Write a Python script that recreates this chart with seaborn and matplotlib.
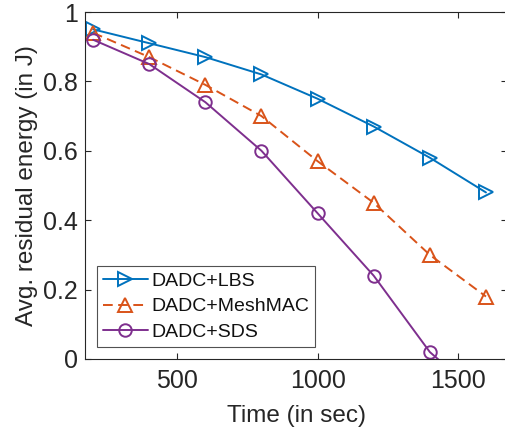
import matplotlib
matplotlib.use("Agg")
import matplotlib.pyplot as plt
import seaborn as sns
import pandas as pd

time_sec = [200, 400, 600, 800, 1000, 1200, 1400, 1600]
lbs = [0.95, 0.91, 0.87, 0.82, 0.75, 0.67, 0.58, 0.48]
meshmac = [0.94, 0.87, 0.79, 0.70, 0.57, 0.45, 0.30, 0.18]
sds = [0.92, 0.85, 0.74, 0.60, 0.42, 0.24, 0.02, -0.12]
labels = ["DADC+LBS", "DADC+MeshMAC", "DADC+SDS"]
x_ticks = [500, 1000, 1500]
y_ticks = [0, 0.2, 0.4, 0.6, 0.8, 1]

sns.set_theme(style="white")
plt.rcParams['font.family'] = ['Liberation Sans', 'DejaVu Sans']

fig = plt.figure(figsize=(5.06, 4.33), dpi=100)
ax = fig.add_axes([85/506, 74/433, 1.0 - 85/506 + 0.002, 347/433])

colors = ["#0072BD", "#D95319", "#7E2F8E"]
markers = [">", "^", "o"]
styles = ["-", (0, (5, 2.8)), "-"]
sizes = [10, 10, 9]
series = [lbs, meshmac, sds]

for vals, lab, c, m, ls, ms in zip(series, labels, colors, markers, styles, sizes):
    df = pd.DataFrame({"t": time_sec, "e": vals})
    sns.lineplot(data=df, x="t", y="e", ax=ax, color=c, marker=m, linestyle=ls,
                 linewidth=1.4, markersize=ms, markerfacecolor="none",
                 markeredgecolor=c, markeredgewidth=1.4, label=lab)

ax.set_xlim(171, 1675)
ax.set_ylim(0, 1)
ax.set_xticks(x_ticks)
ax.set_yticks(y_ticks)
ax.set_yticklabels(["0", "0.2", "0.4", "0.6", "0.8", "1"])
ax.set_xlabel("Time (in sec)", fontsize=17.5, color="#262626", labelpad=9)
ax.set_ylabel("Avg. residual energy (in J)", fontsize=17.5, color="#262626", labelpad=4)
ax.tick_params(direction="in", length=4, width=0.8, colors="#262626",
               labelsize=18, top=True, right=True, bottom=True, left=True)
ax.tick_params(axis="x", pad=7)
ax.tick_params(axis="y", pad=5)
for s in ax.spines.values():
    s.set_color("#262626")
    s.set_linewidth(0.8)

leg = ax.legend(loc="lower left", bbox_to_anchor=(12/421, 12/347), fontsize=14,
                frameon=True, fancybox=False, handlelength=2.3, handletextpad=0.2,
                borderpad=0.3, labelspacing=0.42, borderaxespad=0)
leg.get_frame().set_edgecolor("#262626")
leg.get_frame().set_linewidth(0.8)
for t in leg.get_texts():
    t.set_color("#111111")

fig.savefig("out.png", dpi=100)
